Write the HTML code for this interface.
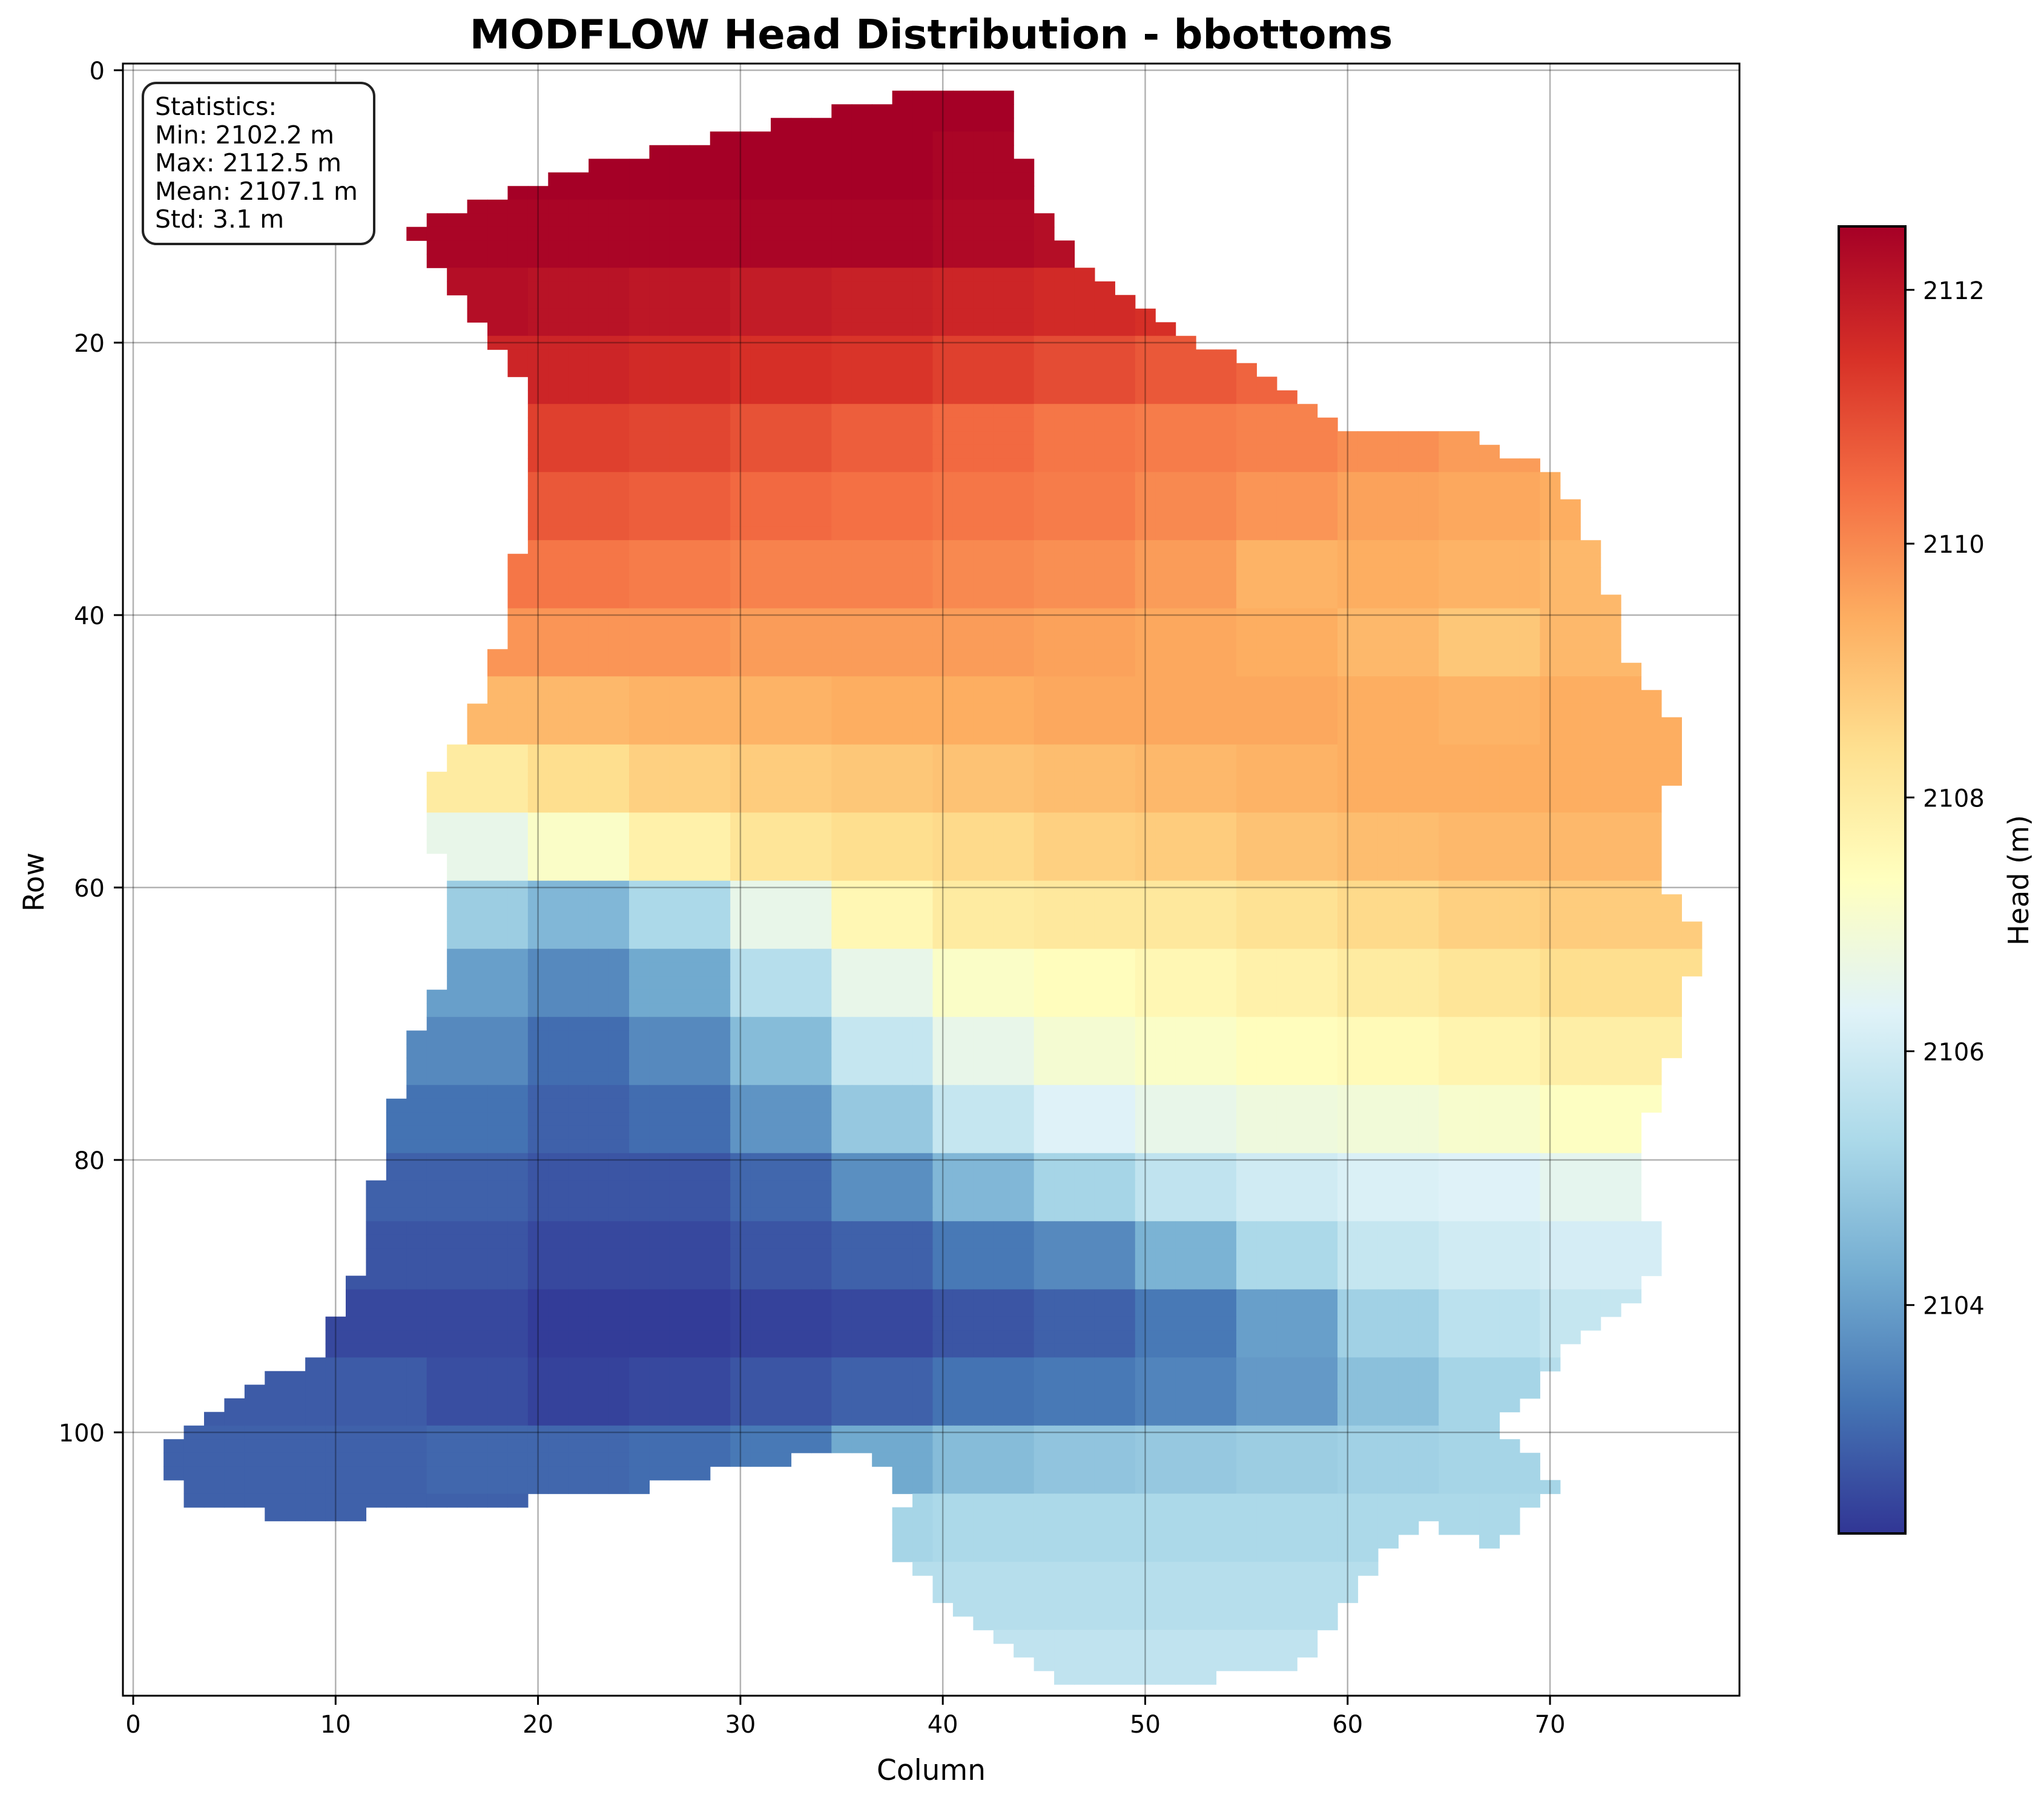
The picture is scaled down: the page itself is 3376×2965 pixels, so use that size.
<!DOCTYPE html>
<html>
<head>
<meta charset="utf-8">
<style>
html,body{margin:0;padding:0;background:#fff;}
svg{display:block;}
text{font-family:"DejaVu Sans","Liberation Sans",sans-serif;fill:#000;}
</style>
</head>
<body>
<svg id="chart" width="3376" height="2965" viewBox="0 0 3376 2965" xmlns="http://www.w3.org/2000/svg">
  <defs>
    <linearGradient id="cbgrad" x1="0" y1="1" x2="0" y2="0">
      <stop offset="0" stop-color="#313695"/>
      <stop offset="0.1" stop-color="#4575b4"/>
      <stop offset="0.2" stop-color="#74add1"/>
      <stop offset="0.3" stop-color="#abd9e9"/>
      <stop offset="0.4" stop-color="#e0f3f8"/>
      <stop offset="0.5" stop-color="#ffffbf"/>
      <stop offset="0.6" stop-color="#fee090"/>
      <stop offset="0.7" stop-color="#fdae61"/>
      <stop offset="0.8" stop-color="#f46d43"/>
      <stop offset="0.9" stop-color="#d73027"/>
      <stop offset="1" stop-color="#a50026"/>
    </linearGradient>
    <clipPath id="axclip"><rect x="203" y="105" width="2670" height="2696"/></clipPath>
  </defs>
  <text x="1538" y="80" font-size="67" font-weight="bold" text-anchor="middle">MODFLOW Head Distribution - bbottoms</text>
  <g id="cells" clip-path="url(#axclip)"></g>
  <g id="grid"></g>
  <rect x="203" y="105" width="2670" height="2696" fill="none" stroke="#000" stroke-width="3"/>
  <g id="xticks"></g>
  <g id="yticks"></g>
  <text x="1538" y="2940" font-size="47" text-anchor="middle">Column</text>
  <text x="72" y="1457" font-size="47" text-anchor="middle" transform="rotate(-90 72 1457)">Row</text>
  <g>
    <rect x="236" y="137" width="382" height="266" rx="22" ry="22" fill="#fff" stroke="#222" stroke-width="4"/>
    <text x="256" y="190" font-size="41">Statistics:</text>
    <text x="256" y="237" font-size="41">Min: 2102.2 m</text>
    <text x="256" y="283" font-size="41">Max: 2112.5 m</text>
    <text x="256" y="330" font-size="41">Mean: 2107.1 m</text>
    <text x="256" y="376" font-size="41">Std: 3.1 m</text>
  </g>
  <g>
    <rect x="3037" y="374" width="110" height="2159" fill="url(#cbgrad)" stroke="#000" stroke-width="4"/>
    <g id="cbticks"></g>
    <text x="3350" y="1454" font-size="46" text-anchor="middle" transform="rotate(-90 3350 1454)">Head (m)</text>
  </g>
</svg>
<script>
// ---- chart data ----
const vmin = 2102.2;
const vmax = 2112.5;
const xTickLabels = [0,10,20,30,40,50,60,70];
const yTickLabels = [0,20,40,60,80,100];
const cbTickLabels = [2104,2106,2108,2110,2112];
// head values by 5x5 block: block row i = rows 5i..5i+4, block col j = cols 5j..5j+4
const headBlocks = [
[2112.5,2112.5,2112.5,2112.5,2112.5,2112.5,2112.5,2112.5,2112.5,2112.5,2112.5,2112.5,2112.5,2112.5,2112.5,2112.5],
[2112.5,2112.5,2112.5,2112.5,2112.5,2112.5,2112.5,2112.5,2112.4,2112.4,2112.4,2112.4,2112.4,2112.4,2112.4,2112.4],
[2112.4,2112.4,2112.4,2112.4,2112.4,2112.4,2112.4,2112.4,2112.3,2112.2,2112.0,2112.0,2112.0,2112.0,2112.0,2112.0],
[2112.2,2112.2,2112.2,2112.2,2112.1,2112.0,2111.9,2111.8,2111.7,2111.6,2111.5,2111.5,2111.5,2111.5,2111.5,2111.5],
[2111.7,2111.7,2111.7,2111.7,2111.7,2111.6,2111.5,2111.4,2111.2,2111.0,2110.8,2110.6,2110.5,2110.5,2110.5,2110.5],
[2111.2,2111.2,2111.2,2111.2,2111.2,2111.1,2110.9,2110.7,2110.5,2110.3,2110.2,2110.1,2109.9,2109.7,2109.6,2109.6],
[2110.8,2110.8,2110.8,2110.8,2110.8,2110.7,2110.5,2110.4,2110.3,2110.2,2110.0,2109.8,2109.6,2109.5,2109.4,2109.4],
[2110.3,2110.3,2110.3,2110.3,2110.3,2110.2,2110.1,2110.1,2110.0,2109.9,2109.7,2109.3,2109.4,2109.3,2109.2,2109.2],
[2109.8,2109.8,2109.8,2109.8,2109.8,2109.8,2109.7,2109.7,2109.7,2109.6,2109.5,2109.4,2109.2,2108.9,2109.2,2109.3],
[2109.2,2109.2,2109.2,2109.2,2109.2,2109.3,2109.3,2109.4,2109.4,2109.5,2109.5,2109.5,2109.4,2109.3,2109.4,2109.4],
[2108.0,2108.0,2108.0,2108.0,2108.4,2108.7,2108.8,2108.9,2109.0,2109.1,2109.2,2109.3,2109.4,2109.4,2109.4,2109.4],
[2106.6,2106.6,2106.6,2106.6,2107.2,2107.8,2108.2,2108.4,2108.5,2108.7,2108.8,2109.0,2109.1,2109.2,2109.2,2109.2],
[2105.0,2105.0,2105.0,2105.0,2104.5,2105.3,2106.6,2107.6,2108.0,2108.1,2108.1,2108.3,2108.5,2108.7,2108.8,2108.8],
[2104.0,2104.0,2104.0,2104.0,2103.6,2104.2,2105.5,2106.6,2107.2,2107.4,2107.6,2107.8,2108.0,2108.2,2108.4,2108.4],
[2103.6,2103.6,2103.6,2103.6,2103.1,2103.6,2104.6,2105.8,2106.6,2107.0,2107.2,2107.4,2107.5,2107.7,2107.9,2107.9],
[2103.2,2103.2,2103.2,2103.2,2102.9,2103.1,2103.8,2104.9,2105.8,2106.3,2106.6,2106.8,2106.9,2107.1,2107.3,2107.3],
[2102.9,2102.9,2102.9,2102.9,2102.7,2102.7,2103.0,2103.7,2104.5,2105.2,2105.7,2106.0,2106.2,2106.3,2106.5,2106.5],
[2102.7,2102.7,2102.7,2102.7,2102.5,2102.5,2102.7,2102.9,2103.3,2103.6,2104.4,2105.3,2105.8,2106.0,2106.1,2106.1],
[2102.5,2102.5,2102.5,2102.5,2102.3,2102.3,2102.4,2102.5,2102.7,2102.9,2103.3,2104.0,2105.1,2105.6,2105.8,2105.8],
[2102.8,2102.8,2102.8,2102.6,2102.4,2102.5,2102.7,2102.9,2103.2,2103.3,2103.5,2103.9,2104.7,2105.2,2105.5,2105.5],
[2102.9,2102.9,2102.9,2103.0,2103.0,2103.1,2103.3,2104.2,2104.6,2104.8,2104.9,2105.0,2105.1,2105.2,2105.2,2105.2],
[2102.9,2102.9,2102.9,2102.9,2102.9,2102.9,2102.9,2105.2,2105.3,2105.3,2105.3,2105.3,2105.3,2105.3,2105.3,2105.3],
[2105.5,2105.5,2105.5,2105.5,2105.5,2105.5,2105.5,2105.5,2105.5,2105.5,2105.5,2105.5,2105.5,2105.5,2105.5,2105.5],
[2105.7,2105.7,2105.7,2105.7,2105.7,2105.7,2105.7,2105.7,2105.7,2105.7,2105.7,2105.7,2105.7,2105.7,2105.7,2105.7]
];
// active-cell mask as runs: [rowFrom, rowTo, colFrom, colTo]
const activeRuns = [
[2,2,38,43],[3,3,35,43],[4,4,32,43],[5,5,29,43],[6,6,26,43],
[7,7,23,44],[8,8,21,44],[9,9,19,44],[10,10,17,44],[11,11,15,45],[12,12,14,45],
[13,14,15,46],[15,15,16,47],[16,16,16,48],[17,17,17,49],[18,18,17,50],
[19,19,18,51],[20,20,18,52],[21,21,19,54],[22,22,19,55],[23,23,20,56],[24,24,20,57],
[25,25,20,58],[26,26,20,59],[27,27,20,66],[28,28,20,67],[29,29,20,69],[30,31,20,70],
[32,34,20,71],[35,35,20,72],[36,38,19,72],[39,42,19,73],[43,43,18,73],[44,45,18,74],
[46,46,18,75],[47,47,17,75],[48,49,17,76],[50,51,16,76],[52,52,15,76],[53,57,15,75],
[58,60,16,75],[61,62,16,76],[63,66,16,77],[67,67,16,76],[68,70,15,76],[71,72,14,76],
[73,75,14,75],[76,76,13,75],[77,81,13,74],[82,84,12,74],[85,88,12,75],[89,90,11,74],
[91,91,11,73],[92,92,10,72],[93,93,10,71],[94,94,10,70],[95,95,9,70],[96,96,7,69],
[97,97,6,69],[98,98,5,68],[99,99,4,67],[100,100,3,67],[101,101,2,68],
[102,102,2,32],[102,102,37,69],[103,103,2,28],[103,103,38,69],[104,104,3,25],[104,104,38,70],
[105,105,3,19],[105,105,39,69],[106,106,7,11],[106,106,38,68],[107,107,38,63],[107,107,65,68],
[108,108,38,62],[108,108,67,67],[109,109,38,61],[110,110,39,61],[111,112,40,60],
[113,113,41,59],[114,114,42,59],[115,115,43,58],[116,116,44,58],[117,117,45,57],[118,118,46,53]
];

// ---- axis functions ----
const X0 = 220, DX = 33.43, Y0 = 116, DY = 22.5;
function xPos(c){ return X0 + c*DX; }
function yPos(r){ return Y0 + r*DY; }
const CB_TOP = 374, CB_BOT = 2533;
function cbY(v){ return CB_BOT - (v - vmin)/(vmax - vmin)*(CB_BOT - CB_TOP); }

const stops = [[49,54,149],[69,117,180],[116,173,209],[171,217,233],[224,243,248],[255,255,191],[254,224,144],[253,174,97],[244,109,67],[215,48,39],[165,0,38]];
function cmap(v){
  let t = (v - vmin)/(vmax - vmin);
  t = Math.max(0, Math.min(1, t));
  const s = t*10, i = Math.min(9, Math.floor(s)), f = s - i;
  const a = stops[i], b = stops[i+1];
  return 'rgb(' + [0,1,2].map(k => Math.round(a[k] + (b[k]-a[k])*f)).join(',') + ')';
}

const NS = 'http://www.w3.org/2000/svg';
const cells = document.getElementById('cells');
activeRuns.forEach(run => {
  for (let r = run[0]; r <= run[1]; r++) {
    for (let c = run[2]; c <= run[3]; c++) {
      const bi = Math.min(headBlocks.length-1, Math.floor(r/5));
      const bj = Math.min(15, Math.floor(c/5));
      const v = headBlocks[bi][bj];
      const el = document.createElementNS(NS, 'rect');
      
      
      el.setAttribute('x', (xPos(c - 0.5)).toFixed(2));
      el.setAttribute('y', (yPos(r - 0.5)).toFixed(2));
      el.setAttribute('width', (DX + 0.6).toFixed(2));
      el.setAttribute('height', (DY + 0.6).toFixed(2));
      el.setAttribute('fill', cmap(v));
      cells.appendChild(el);
    }
  }
});

const grid = document.getElementById('grid');
const xt = document.getElementById('xticks');
xTickLabels.forEach(t => {
  const x = xPos(t);
  const g = document.createElementNS(NS, 'line');
  
  
  g.setAttribute('x1', x); g.setAttribute('x2', x); g.setAttribute('y1', 105); g.setAttribute('y2', 2801);
  g.setAttribute('stroke', 'rgba(0,0,0,0.3)'); g.setAttribute('stroke-width', '2.5');
  grid.appendChild(g);
  const tk = document.createElementNS(NS, 'line');
  
  
  tk.setAttribute('x1', x); tk.setAttribute('x2', x); tk.setAttribute('y1', 2801); tk.setAttribute('y2', 2816);
  tk.setAttribute('stroke', '#000'); tk.setAttribute('stroke-width', '3');
  xt.appendChild(tk);
  const tx = document.createElementNS(NS, 'text');
  
  
  tx.setAttribute('x', x); tx.setAttribute('y', 2862);
  tx.setAttribute('font-size', '40'); tx.setAttribute('text-anchor', 'middle');
  tx.textContent = t;
  xt.appendChild(tx);
});
const yt = document.getElementById('yticks');
yTickLabels.forEach(t => {
  const y = yPos(t);
  const g = document.createElementNS(NS, 'line');
  
  
  g.setAttribute('x1', 203); g.setAttribute('x2', 2873); g.setAttribute('y1', y); g.setAttribute('y2', y);
  g.setAttribute('stroke', 'rgba(0,0,0,0.3)'); g.setAttribute('stroke-width', '2.5');
  grid.appendChild(g);
  const tk = document.createElementNS(NS, 'line');
  
  
  tk.setAttribute('x1', 188); tk.setAttribute('x2', 203); tk.setAttribute('y1', y); tk.setAttribute('y2', y);
  tk.setAttribute('stroke', '#000'); tk.setAttribute('stroke-width', '3');
  yt.appendChild(tk);
  const tx = document.createElementNS(NS, 'text');
  
  
  tx.setAttribute('x', 173); tx.setAttribute('y', y + 15);
  tx.setAttribute('font-size', '40'); tx.setAttribute('text-anchor', 'end');
  tx.textContent = t;
  yt.appendChild(tx);
});
const cbt = document.getElementById('cbticks');
cbTickLabels.forEach(t => {
  const y = cbY(t);
  const tk = document.createElementNS(NS, 'line');
  
  
  tk.setAttribute('x1', 3147); tk.setAttribute('x2', 3162); tk.setAttribute('y1', y); tk.setAttribute('y2', y);
  tk.setAttribute('stroke', '#000'); tk.setAttribute('stroke-width', '3');
  cbt.appendChild(tk);
  const tx = document.createElementNS(NS, 'text');
  
  
  tx.setAttribute('x', 3176); tx.setAttribute('y', y + 15);
  tx.setAttribute('font-size', '40');
  tx.textContent = t;
  cbt.appendChild(tx);
});
</script>
</body>
</html>
